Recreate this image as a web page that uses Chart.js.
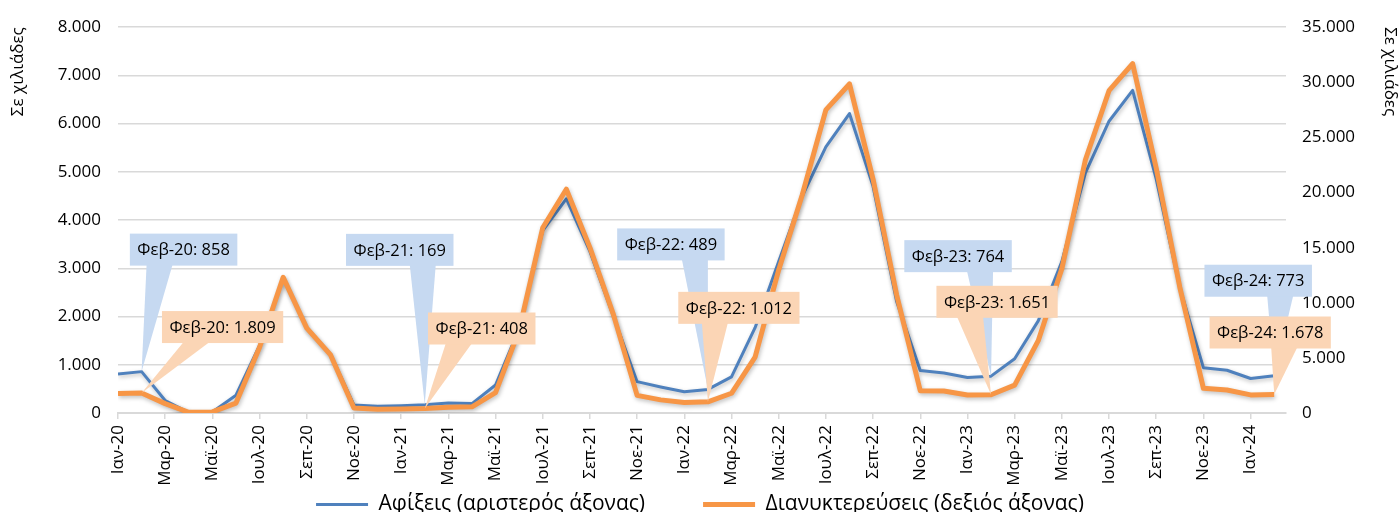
<!DOCTYPE html>
<html lang="el">
<head>
<meta charset="utf-8">
<title>Αφίξεις και διανυκτερεύσεις</title>
<script src="https://cdn.jsdelivr.net/npm/chart.js@4.4.1/dist/chart.umd.min.js"></script>
<style>
  html, body { margin: 0; padding: 0; background: #fff; overflow: hidden; }
  #wrap { position: relative; width: 1400px; height: 525px; }
</style>
</head>
<body>
<div id="wrap"><canvas id="grafima"></canvas></div>
<script>
// μήνες Ιαν-20 ... Φεβ-24
const monthNames = ['Ιαν', 'Φεβ', 'Μαρ', 'Απρ', 'Μαϊ', 'Ιουν', 'Ιουλ', 'Αυγ', 'Σεπ', 'Οκτ', 'Νοε', 'Δεκ'];
const years = ['20', '21', '22', '23', '24'];
const monthLabels = [];
years.forEach(y => monthNames.forEach(m => monthLabels.push(m + '-' + y)));
monthLabels.length = 50;

// σε χιλιάδες
const arrivals = [810, 858, 260, 10, 20, 370, 1400, 2800, 1760, 1220, 165, 140,
  150, 169, 205, 195, 580, 1750, 3780, 4440, 3350, 2000, 650, 540,
  440, 489, 750, 1770, 3140, 4500, 5520, 6210, 4700, 2310, 880, 830,
  736, 764, 1125, 1910, 3140, 4980, 6050, 6690, 4850, 2600, 940, 886,
  716, 773];
const overnights = [1760, 1809, 850, 60, 100, 900, 5960, 12300, 7700, 5300, 450, 340,
  370, 408, 520, 560, 1850, 7500, 16800, 20300, 15000, 8900, 1600, 1190,
  960, 1012, 1790, 5070, 12980, 19800, 27500, 29850, 21200, 10700, 2020, 1990,
  1640, 1651, 2530, 6560, 13100, 22970, 29240, 31700, 22200, 11400, 2240, 2090,
  1640, 1678];

const leftTicks = [0, 1000, 2000, 3000, 4000, 5000, 6000, 7000, 8000];
const rightTicks = [0, 5000, 10000, 15000, 20000, 25000, 30000, 35000];

const fmt = v => String(v).replace(/\B(?=(\d{3})+(?!\d))/g, '.');

// ετικέτες Φεβρουαρίου (θέση κουτιού σε px σχετικά με το σημείο)
const callouts = [
  { series: 0, index: 1, dx: 42, dy: -122, bx: 18 },
  { series: 0, index: 13, dx: -25, dy: -155, bx: -2 },
  { series: 0, index: 25, dx: -37, dy: -145, bx: -13 },
  { series: 0, index: 37, dx: -33, dy: -120, bx: -11 },
  { series: 0, index: 49, dx: -16, dy: -95, bx: 6 },
  { series: 1, index: 1, dx: 81, dy: -66, bx: 55 },
  { series: 1, index: 13, dx: 57, dy: -80, bx: 34 },
  { series: 1, index: 25, dx: 31, dy: -94, bx: 7 },
  { series: 1, index: 37, dx: 6, dy: -93, bx: -21 },
  { series: 1, index: 49, dx: -4, dy: -62, bx: 10 }
];
const seriesValues = [arrivals, overnights];
const calloutFill = ['#C6D9F1', '#FBD5B5'];

const lineShadow = {
  id: 'lineShadow',
  beforeDatasetDraw(chart) {
    const c = chart.ctx;
    c.save();
    c.shadowColor = 'rgba(0,0,0,0.25)';
    c.shadowBlur = 4;
    c.shadowOffsetX = 1;
    c.shadowOffsetY = 2;
  },
  afterDatasetDraw(chart) {
    chart.ctx.restore();
  }
};

// ο άξονας x είναι στενός (το υπόμνημα ανεβαίνει), άρα χωρίς clip στις ετικέτες
const noLabelClip = {
  id: 'noLabelClip',
  afterLayout(chart) {
    chart.scales.x._computeLabelArea = () => undefined;
  }
};

const calloutPlugin = {
  id: 'callouts',
  afterDatasetsDraw(chart) {
    const ctx = chart.ctx;
    ctx.save();
    ctx.font = '16.5px "Open Sans"';
    ctx.textAlign = 'center';
    ctx.textBaseline = 'middle';
    callouts.forEach(c => {
      const pt = chart.getDatasetMeta(c.series).data[c.index];
      const text = monthLabels[c.index] + ': ' + fmt(seriesValues[c.series][c.index]);
      const w = ctx.measureText(text).width + 15;
      const h = 32;
      const cx = pt.x + c.dx, cy = pt.y + c.dy;
      const left = cx - w / 2, top = cy - h / 2;
      ctx.fillStyle = calloutFill[c.series];
      ctx.beginPath();
      ctx.moveTo(pt.x + c.bx - 13, top + h - 1);
      ctx.lineTo(pt.x + c.bx + 13, top + h - 1);
      ctx.lineTo(pt.x, pt.y);
      ctx.closePath();
      ctx.fill();
      ctx.fillRect(left, top, w, h);
      ctx.fillStyle = '#000';
      ctx.fillText(text, cx, cy + 1);
    });
    ctx.restore();
  }
};

Chart.defaults.font.family = '"Open Sans", sans-serif';
Chart.defaults.color = '#000';

const ctx = document.getElementById('grafima').getContext('2d');
const grafima = new Chart(ctx, {
  type: 'line',
  data: {
    datasets: [
      {
        label: 'Αφίξεις (αριστερός άξονας)',
        data: arrivals.map((v, i) => ({ x: i, y: v })),
        yAxisID: 'y',
        borderColor: '#4F81BD',
        backgroundColor: '#4F81BD',
        borderWidth: 3,
        pointRadius: 0,
        borderJoinStyle: 'round',
        order: 1
      },
      {
        label: 'Διανυκτερεύσεις (δεξιός άξονας)',
        data: overnights.map((v, i) => ({ x: i, y: v })),
        yAxisID: 'y1',
        borderColor: '#F79646',
        backgroundColor: '#F79646',
        borderWidth: 5,
        pointRadius: 0,
        borderJoinStyle: 'round',
        order: 0
      }
    ]
  },
  options: {
    responsive: true,
    maintainAspectRatio: false,
    animation: false,
    layout: { padding: { top: 22, left: 0, right: 0, bottom: 0 } },
    plugins: {
      tooltip: { enabled: false },
      legend: {
        position: 'bottom',
        labels: {
          usePointStyle: true,
          pointStyle: 'line',
          pointStyleWidth: 52,
          padding: 58,
          font: { size: 21 },
          sort: (a, b) => a.datasetIndex - b.datasetIndex
        }
      }
    },
    scales: {
      x: {
        type: 'linear',
        min: 0,
        max: 49.5,
        grid: { drawOnChartArea: false, drawTicks: true, tickLength: 6, color: '#d9d9d9', lineWidth: 1.5 },
        border: { color: '#d9d9d9', width: 2 },
        ticks: {
          stepSize: 2,
          autoSkip: false,
          maxRotation: 90,
          minRotation: 90,
          padding: 6,
          includeBounds: false,
          font: { size: 17 },
          callback: v => monthLabels[v]
        },
        afterBuildTicks: s => { s.ticks = s.ticks.filter(t => Number.isInteger(t.value)); },
        afterFit: s => { s.height = 23; }
      },
      y: {
        position: 'left',
        min: 0,
        max: 8000,
        afterBuildTicks: s => { s.ticks = leftTicks.map(v => ({ value: v })); },
        ticks: { padding: 17, font: { size: 17 }, callback: v => fmt(v) },
        grid: { color: '#d9d9d9', lineWidth: 1.5, drawTicks: false },
        border: { display: false },
        title: { display: true, text: 'Σε χιλιάδες', align: 'end', padding: { top: 8, bottom: 0 }, font: { size: 17 } },
        afterFit: s => { s.width = 118; }
      },
      y1: {
        position: 'right',
        min: 0,
        max: 35000,
        afterBuildTicks: s => { s.ticks = rightTicks.map(v => ({ value: v })); },
        ticks: { padding: 16, font: { size: 17 }, callback: v => fmt(v) },
        grid: { drawOnChartArea: false, drawTicks: false },
        border: { display: false },
        title: { display: true, text: 'Σε χιλιάδες', align: 'end', padding: { top: 0, bottom: 0 }, font: { size: 17 } },
        afterFit: s => { s.width = 114; }
      }
    }
  },
  plugins: [lineShadow, noLabelClip, calloutPlugin]
});
</script>
</body>
</html>
